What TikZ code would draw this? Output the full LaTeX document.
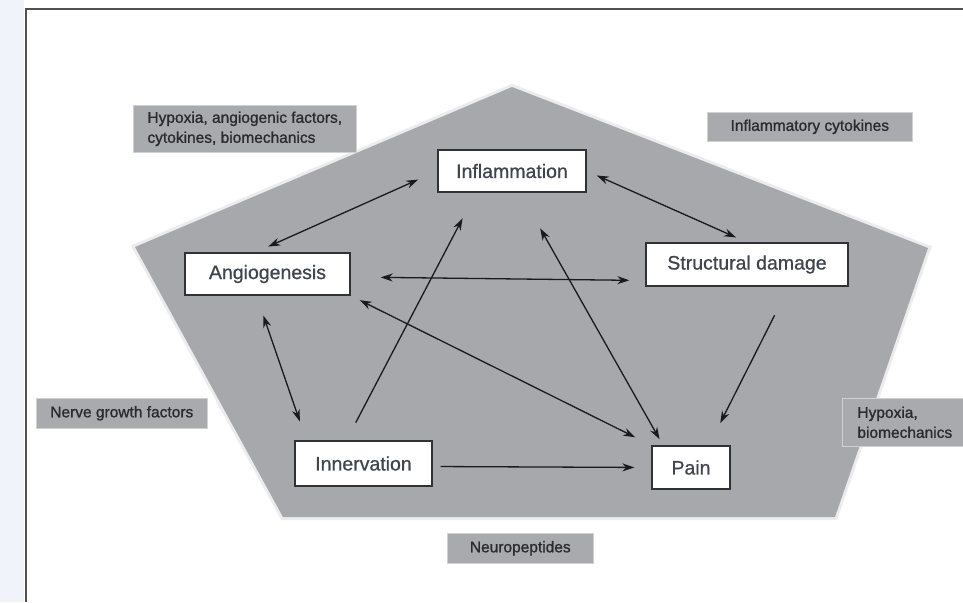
\documentclass[tikz,border=0pt]{standalone}
\usepackage{fontspec}
\setmainfont{Liberation Sans}
\newfontfamily\boxfont[FakeBold=0.7]{Liberation Sans}
\newfontfamily\tagfont[FakeBold=1.1]{Liberation Sans}
\usetikzlibrary{arrows.meta}
\definecolor{pentagray}{HTML}{A7A8AC}
\definecolor{halo}{HTML}{ECECEE}
\definecolor{taggray}{HTML}{A9AAAE}
\definecolor{tagtext}{HTML}{2A2A2F}
\definecolor{boxline}{HTML}{303236}
\definecolor{boxtext}{HTML}{40444D}
\definecolor{arrowcol}{HTML}{1A1A1E}
\definecolor{framecol}{HTML}{505054}
\definecolor{leftblue}{HTML}{F0F4F9}

\begin{document}
\begin{tikzpicture}[x=1pt, y=-1pt,
    box/.style={draw=boxline, line width=1.4pt, fill=white, text=boxtext,
      font=\boxfont\fontsize{19.5}{22}\selectfont, inner sep=0pt},
    tag/.style={fill=taggray, draw=white!82!black, line width=0.6pt, text=tagtext,
      font=\tagfont\fontsize{15.5}{20}\selectfont, anchor=north west, inner sep=0pt, align=left},
    tip/.tip={Stealth[length=12pt, width=8pt]},
    dbl/.style={tip-tip, line width=1.3pt, draw=arrowcol},
    sgl/.style={-tip, line width=1.3pt, draw=arrowcol}]
  \useasboundingbox (0,0) rectangle (963,602);
  \fill[leftblue] (0,0) rectangle (24,602);
  \draw[framecol, line width=2.2pt] (26,602) -- (26,9) -- (963,9);

  % pentagon
  \coordinate (top) at (512,87);
  \coordinate (right) at (928,248);
  \coordinate (bright) at (835,517);
  \coordinate (bleft) at (283,517);
  \coordinate (left) at (135,247);
  \filldraw[halo, line width=6pt, line join=miter] (top) -- (right) -- (bright) -- (bleft) -- (left) -- cycle;
  \fill[pentagray] (top) -- (right) -- (bright) -- (bleft) -- (left) -- cycle;

  % grey factor tags
  \node[tag, minimum width=223pt, minimum height=47pt] (hyp) at (133,105)
    {Hypoxia, angiogenic factors,\\cytokines, biomechanics};
  \node[tag, minimum width=205pt, minimum height=29pt] (infc) at (707,112) {Inflammatory cytokines};
  \node[tag, minimum width=171pt, minimum height=30pt] (ngf) at (36,398) {Nerve growth factors};
  \node[tag, minimum width=125pt, minimum height=48pt] (hypb) at (842,398) {Hypoxia,\\biomechanics};
  \node[tag, minimum width=146pt, minimum height=30pt] (neu) at (447,533) {Neuropeptides};

  % white boxes
  \node[box, minimum width=148pt, minimum height=42pt] (inf) at (512,171) {Inflammation};
  \node[box, minimum width=165pt, minimum height=42pt] (ang) at (267.5,274) {Angiogenesis};
  \node[box, minimum width=202pt, minimum height=43pt] (sd) at (747,264.5) {Structural damage};
  \node[box, minimum width=137pt, minimum height=45pt] (inn) at (363.5,463.5) {Innervation};
  \node[box, minimum width=78pt, minimum height=43pt] (pain) at (691,467.5) {Pain};

  % connections
  \draw[dbl, shorten <=14pt, shorten >=21pt] ([xshift=-12pt]ang.north) -- (inf.west);
  \draw[dbl, shorten <=11pt, shorten >=12pt] (inf.east) -- (sd.north);
  \draw[dbl, shorten <=30pt, shorten >=16pt] ([yshift=-3pt]ang.east) -- ([yshift=-16pt]sd.west);
  \draw[dbl, shorten <=21pt, shorten >=20pt] ([xshift=-11pt]ang.south) -- ([xshift=12pt]inn.north west);
  \draw[sgl, shorten <=20pt, shorten >=29pt] ([xshift=-17pt]inn.north) -- ([xshift=-36pt]inf.south);
  \draw[dbl, shorten <=41pt, shorten >=7pt] ([xshift=8pt]inf.south) -- ([xshift=-28pt]pain.north);
  \draw[dbl, shorten <=10pt, shorten >=18pt] (ang.south east) -- (pain.north west);
  \draw[sgl, shorten <=32pt, shorten >=25pt] ([xshift=42pt]sd.south) -- ([xshift=18pt]pain.north);
  \draw[sgl, shorten <=8pt, shorten >=17pt] ([yshift=-3pt]inn.east) -- (pain.west);
\end{tikzpicture}
\end{document}
